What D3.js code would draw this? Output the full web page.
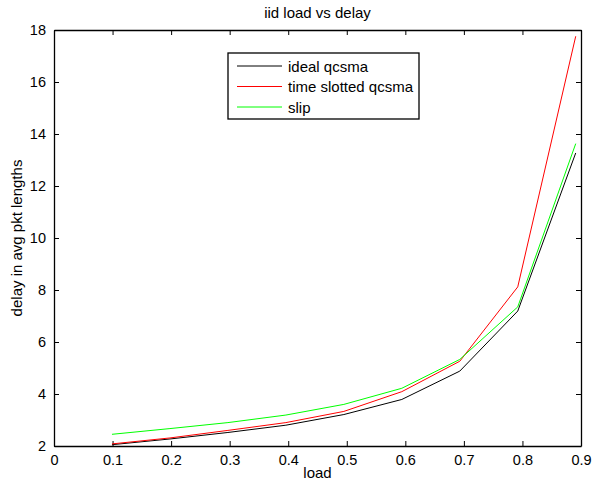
<!doctype html>
<html lang="en">
<head>
  <meta charset="utf-8">
  <title>iid load vs delay</title>
  <script src="https://d3js.org/d3.v7.min.js"></script>
  <style>
    body { margin: 0; background: #fff; }
    text { font-family: "Liberation Sans", Arial, sans-serif; }
  </style>
</head>
<body>
  <div id="chart"></div>
  <script type="text/javascript">
	var load = [0.099, 0.198, 0.297, 0.396, 0.495, 0.594, 0.693, 0.792, 0.891];
	var idealQcsma = [2.05, 2.27, 2.52, 2.80, 3.21, 3.79, 4.88, 7.19, 13.27];
	var slottedQcsma = [2.08, 2.31, 2.60, 2.90, 3.33, 4.09, 5.26, 8.12, 17.76];
	var slip = [2.45, 2.67, 2.90, 3.19, 3.60, 4.22, 5.33, 7.35, 13.63];

	var seriesNames = ["ideal qcsma", "time slotted qcsma", "slip"];
	var seriesColors = ["#000000", "#ff0000", "#00ff00"];
	var xTicks = [0, 0.1, 0.2, 0.3, 0.4, 0.5, 0.6, 0.7, 0.8, 0.9];
	var yTicks = [2, 4, 6, 8, 10, 12, 14, 16, 18];

	var width = 592, height = 482;
	var margin = {top: 30, right: 11, bottom: 36, left: 54};
	var w = width - margin.left - margin.right,
		h = height - margin.top - margin.bottom;

	var x = d3.scaleLinear().domain([0, 0.9]).range([0, w]);
	var y = d3.scaleLinear().domain([2, 18]).range([h, 0]);

	var svg = d3.select('#chart')
				.append('svg')
				.attr('width', width)
				.attr('height', height);

	var g = svg.append('g')
				.attr('transform', 'translate(' + margin.left + ',' + margin.top + ')');

	//axes with inward ticks, mirrored on top and right
	var fmt = function(d) { return d; };
	var axBottom = g.append('g').attr('transform', 'translate(0,' + h + ')')
				.call(d3.axisBottom(x).tickValues(xTicks).tickSizeInner(-5).tickSizeOuter(0).tickPadding(9).tickFormat(fmt));
	var axLeft = g.append('g')
				.call(d3.axisLeft(y).tickValues(yTicks).tickSizeInner(-5).tickSizeOuter(0).tickPadding(8).tickFormat(fmt));
	var axTop = g.append('g')
				.call(d3.axisTop(x).tickValues(xTicks).tickSizeInner(-5).tickSizeOuter(0).tickFormat(''));
	var axRight = g.append('g').attr('transform', 'translate(' + w + ',0)')
				.call(d3.axisRight(y).tickValues(yTicks).tickSizeInner(-5).tickSizeOuter(0).tickFormat(''));

	[axBottom, axLeft, axTop, axRight].forEach(function(a) {
		a.select('.domain').attr('stroke', '#000').attr('stroke-width', 1.3);
		a.selectAll('.tick line').attr('stroke', '#000').attr('stroke-width', 1);
		a.selectAll('.tick text').style('font-size', '14.5px').attr('fill', '#000');
	});

	//the three delay curves
	var rows = [idealQcsma, slottedQcsma, slip];
	var line = d3.line()
				.x(function(d, i) { return x(load[i]); })
				.y(function(d) { return y(d); });

	g.selectAll('.curve')
		.data(rows)
		.enter()
		.append('path')
		.attr('class', 'curve')
		.attr('fill', 'none')
		.attr('stroke', function(d, i) { return seriesColors[i]; })
		.attr('stroke-width', 1)
		.attr('d', line);

	//title and axis labels
	svg.append('text')
		.attr('x', margin.left + w / 2)
		.attr('y', 18)
		.attr('text-anchor', 'middle')
		.style('font-size', '15px')
		.text('iid load vs delay');

	svg.append('text')
		.attr('x', margin.left + w / 2)
		.attr('y', 478)
		.attr('text-anchor', 'middle')
		.style('font-size', '15px')
		.text('load');

	svg.append('text')
		.attr('transform', 'translate(22,' + (margin.top + h / 2) + ') rotate(-90)')
		.attr('text-anchor', 'middle')
		.style('font-size', '15px')
		.text('delay in avg pkt lengths');

	//legend
	var legend = svg.append('g').attr('transform', 'translate(228,53)');
	legend.append('rect')
		.attr('width', 191)
		.attr('height', 66)
		.attr('fill', '#fff')
		.attr('stroke', '#000')
		.attr('stroke-width', 1.3);

	var items = legend.selectAll('.item')
		.data(seriesNames)
		.enter()
		.append('g')
		.attr('class', 'item')
		.attr('transform', function(d, i) { return 'translate(0,' + (13 + i * 20.5) + ')'; });

	items.append('line')
		.attr('x1', 9).attr('x2', 54)
		.attr('stroke', function(d, i) { return seriesColors[i]; })
		.attr('stroke-width', 1);

	items.append('text')
		.attr('x', 60)
		.attr('y', 5.5)
		.style('font-size', '15px')
		.text(function(d) { return d; });
  </script>
</body>
</html>
